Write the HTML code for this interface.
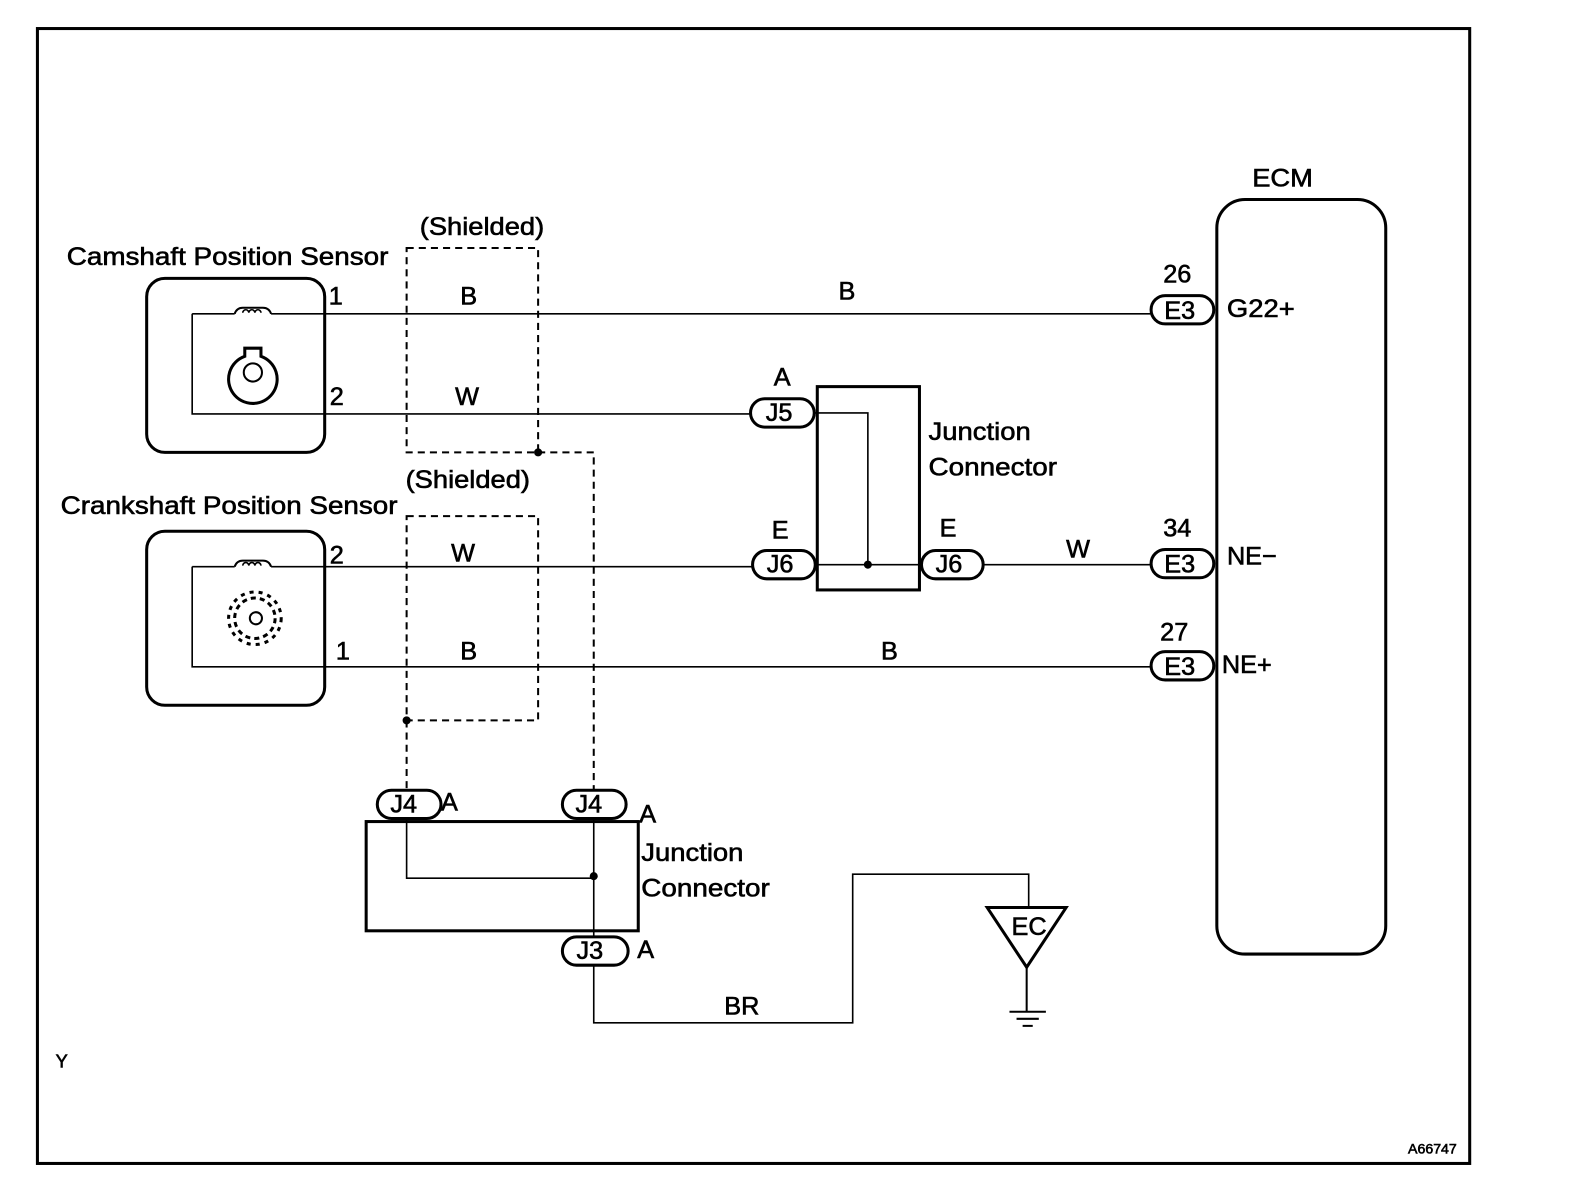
<!DOCTYPE html>
<html><head><style>html,body{margin:0;padding:0;background:#fff}svg{display:block}text{font-family:"Liberation Sans",Arial,sans-serif;fill:#000;stroke:#000;stroke-width:0.6}</style></head>
<body>
<svg width="1584" height="1192" viewBox="0 0 1566 1178" xmlns="http://www.w3.org/2000/svg">
<g fill="none" stroke="#000">
<rect x="37" y="28" width="1416" height="1122" stroke-width="3"/>
<rect x="145" y="275" width="176" height="172" rx="18" stroke-width="3"/>
<path d="M190 310H232M268 310H1138M190 310V409H742" stroke-width="1.6"/>
<path d="M232 310q2-6 8-6h20q6 0 8 6" stroke-width="2"/>
<path d="M240 309a3 3 0 1 1 6 0a3 3 0 1 1 6 0a3 3 0 1 1 6 0" stroke-width="1.6"/>
<path d="M242 344h16v8a24 24 0 1 1 -16 0z" stroke-width="3"/>
<circle cx="250" cy="368" r="9" stroke-width="2"/>
<rect x="145" y="525" width="176" height="172" rx="18" stroke-width="3"/>
<path d="M190 560H232M268 560H744M190 560V659H1138" stroke-width="1.6"/>
<path d="M232 560q2-6 8-6h20q6 0 8 6" stroke-width="2"/>
<path d="M240 559a3 3 0 1 1 6 0a3 3 0 1 1 6 0a3 3 0 1 1 6 0" stroke-width="1.6"/>
<circle cx="252" cy="611" r="20" stroke-width="3" stroke-dasharray="5 4"/>
<circle cx="252" cy="611" r="26" stroke-width="3" stroke-dasharray="4 5"/>
<circle cx="253" cy="611" r="6" stroke-width="2"/>
<path d="M402 245H532V447H402Z M532 447H587V780" stroke-width="2" stroke-dasharray="7 5"/>
<path d="M402 510H532V712H402Z M402 712V780" stroke-width="2" stroke-dasharray="7 5"/>
<rect x="808" y="382" width="101" height="201" stroke-width="3"/>
<path d="M805 408H858V558M806 558H911M972 558H1138" stroke-width="1.6"/>
<rect x="362" y="812" width="269" height="108" stroke-width="3"/>
<path d="M402 810V868H587M587 810V925M587 955V1011H843V864H1017V897" stroke-width="1.6"/>
<path d="M976 897H1054L1015 956Z" stroke-width="3"/>
<path d="M1015 956V1000M998 1000H1034M1005 1007H1027M1011 1014H1021" stroke-width="2"/>
<rect x="1203" y="197" width="167" height="746" rx="28" stroke-width="3"/>
<g stroke-width="3" fill="#fff">
<rect x="1138" y="292" width="62" height="28" rx="14"/>
<rect x="1138" y="543" width="62" height="28" rx="14"/>
<rect x="1138" y="644" width="62" height="28" rx="14"/>
<rect x="742" y="394" width="63" height="28" rx="14"/>
<rect x="744" y="544" width="62" height="28" rx="14"/>
<rect x="911" y="544" width="61" height="28" rx="14"/>
<rect x="373" y="781" width="63" height="28" rx="14"/>
<rect x="556" y="781" width="63" height="28" rx="14"/>
<rect x="556" y="926" width="65" height="28" rx="14"/>
</g>
</g>
<g fill="#000">
<circle cx="532" cy="447" r="4"/><circle cx="402" cy="712" r="4"/>
<circle cx="858" cy="558" r="4"/><circle cx="587" cy="866" r="4"/>
</g>
<g font-size="25">
<text x="66" y="262" textLength="318" lengthAdjust="spacingAndGlyphs">Camshaft Position Sensor</text>
<text x="60" y="508" textLength="333" lengthAdjust="spacingAndGlyphs">Crankshaft Position Sensor</text>
<text x="415" y="232" textLength="123" lengthAdjust="spacingAndGlyphs">(Shielded)</text>
<text x="401" y="482" textLength="123" lengthAdjust="spacingAndGlyphs">(Shielded)</text>
<text x="325" y="301">1</text><text x="326" y="400">2</text>
<text x="326" y="557">2</text><text x="332" y="652">1</text>
<text x="455" y="301">B</text><text x="450" y="400">W</text><text x="829" y="296">B</text>
<text x="446" y="555">W</text><text x="455" y="652">B</text><text x="871" y="652">B</text>
<text x="1054" y="551">W</text><text x="716" y="1003">BR</text>
<text x="765" y="381">A</text><text x="763" y="532">E</text><text x="929" y="530">E</text>
<text x="918" y="435" textLength="101" lengthAdjust="spacingAndGlyphs">Junction</text>
<text x="918" y="470" textLength="127" lengthAdjust="spacingAndGlyphs">Connector</text>
<text x="634" y="851" textLength="101" lengthAdjust="spacingAndGlyphs">Junction</text>
<text x="634" y="886" textLength="127" lengthAdjust="spacingAndGlyphs">Connector</text>
<text x="1150" y="279">26</text><text x="1150" y="530">34</text><text x="1147" y="633">27</text>
<text x="1213" y="313" textLength="67" lengthAdjust="spacingAndGlyphs">G22+</text>
<text x="1213" y="558">NE−</text><text x="1208" y="665">NE+</text>
<text x="1238" y="184" textLength="60" lengthAdjust="spacingAndGlyphs">ECM</text>
<text x="1151" y="315">E3</text><text x="1151" y="566">E3</text><text x="1151" y="667">E3</text>
<text x="757" y="416">J5</text><text x="758" y="566">J6</text><text x="925" y="566">J6</text>
<text x="386" y="803">J4</text><text x="569" y="803">J4</text><text x="570" y="948">J3</text>
<text x="436" y="801">A</text><text x="632" y="813">A</text><text x="630" y="947">A</text>
<text x="1000" y="924">EC</text>
</g>
<text x="55" y="1055" font-size="18">Y</text>
<text x="1392" y="1140" font-size="14">A66747</text>
</svg>
</body></html>
